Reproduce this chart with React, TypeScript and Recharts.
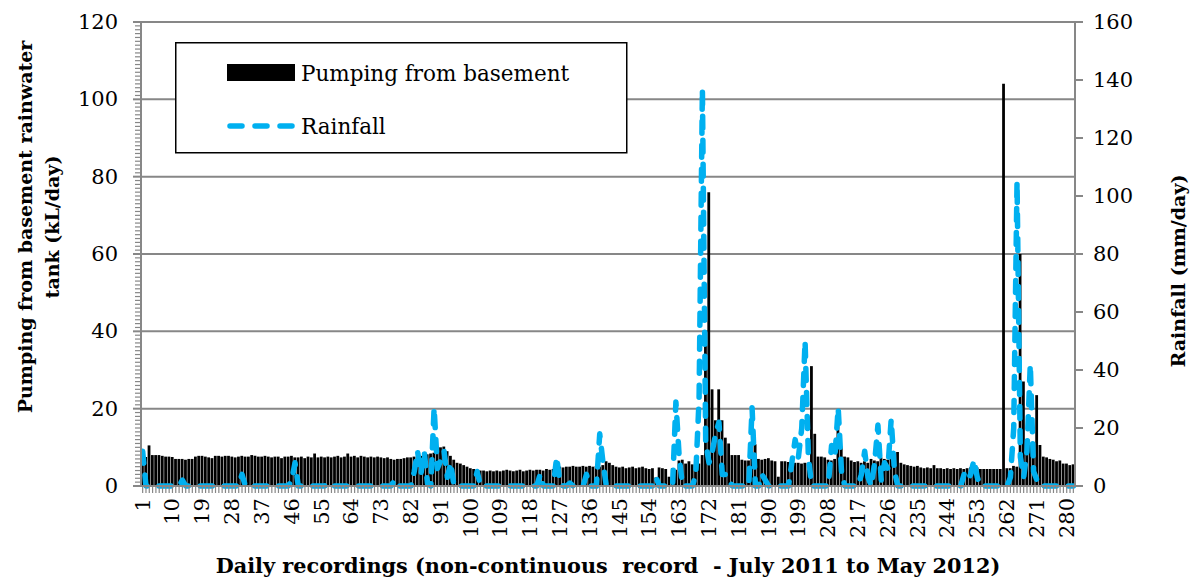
import React from "react";
import { ComposedChart, Bar, Line, XAxis, YAxis, CartesianGrid, Legend } from "recharts";

document.body.style.margin = "0";

const FONT = "'DejaVu Serif', serif";
const GREY = "#878787";
const RAIN_COLOR = "#00B0F0";

// day numbers of the (non-continuous) record
const days: number[] = Array.from({ length: 282 }, (_, i) => i + 1);

// pumping from basement rainwater tank, kL/day
const pumping: number[] = [
  7.5, 7.5, 10.5, 8, 8, 8, 7.8, 7.6, 7.6, 7.5,
  7, 7, 7, 6.8, 7, 7, 7.6, 7.8, 7.8, 7.6,
  7.4, 7.2, 7.8, 7.8, 7.6, 7.8, 7.8, 7.6, 7.4, 7.6,
  7.8, 7.6, 7.6, 8, 7.8, 7.6, 7.6, 7.8, 7.6, 7.4,
  7.6, 7.6, 7.2, 7.6, 7.6, 7.8, 7.4, 7.4, 7.6, 7.2,
  7.6, 7.4, 8.4, 7.4, 7.6, 7.4, 7.6, 7.4, 7.6, 7.8,
  7.4, 7.6, 8.4, 7.6, 7.8, 7.4, 7.8, 7.6, 7.4, 7.6,
  7.4, 7.6, 7.4, 7.2, 7.4, 7, 6.8, 7, 7, 7.2,
  7.4, 7.4, 7.6, 7.6, 7.8, 8, 8.2, 8.4, 8.6, 9,
  10, 10.2, 9, 7.8, 6.8, 6, 5.8, 5.4, 5, 4.6,
  4.4, 4.2, 4, 4, 3.8, 4, 3.8, 4, 3.8, 4,
  4.2, 4, 3.8, 4, 4.2, 3.8, 4, 4.2, 4, 4.2,
  4.2, 4, 4.4, 4.2, 4.4, 4.6, 5, 4.8, 5, 5,
  5.2, 5, 5, 5.2, 5, 5.2, 5, 5.2, 5, 5.4,
  6.4, 6, 5.4, 5, 4.8, 5, 4.6, 4.8, 5, 4.6,
  4.8, 5, 4.6, 4.4, 4.6, 2.2, 4.8, 4.6, 4.4, 2.4,
  4.6, 4.2, 6.6, 6.8, 5.8, 6.4, 5.6, 5.6, 5.8, 8,
  38, 76, 25, 17, 25, 17, 12.5, 11, 8, 8,
  8, 6.8, 6.6, 6.6, 11, 10.8, 7, 6.8, 7, 7.2,
  6.6, 6.4, 2.4, 6.4, 6.4, 6.2, 6.2, 6, 6, 5.8,
  6, 6, 31, 13.5, 7.6, 7.6, 7.4, 6.8, 6.6, 7,
  16, 10.2, 7.6, 7.4, 6.6, 6.2, 6.4, 6, 6.4, 6,
  7, 6.6, 6.4, 7.4, 7, 6.8, 7.2, 7, 8.8, 6,
  5.6, 5.4, 5.2, 5, 5.2, 4.8, 4.6, 4.8, 4.6, 5.4,
  4.6, 4.6, 4.4, 4.6, 4.4, 4.6, 4.4, 4.6, 4.4, 4.6,
  4.8, 5.4, 4.8, 4.4, 4.4, 4.4, 4.4, 4.4, 4.4, 4.4,
  104, 4.6, 4.6, 5.2, 5, 60, 27, 12, 11, 11,
  23.5, 10.6, 7.6, 7.4, 7, 6.8, 6.4, 6.6, 5.8, 5.8,
  5.4, 5.6,
];

// rainfall, mm/day
const rainfall: number[] = [
  12, 0, 0, 0, 0, 0, 0, 0, 0, 0,
  0, 0, 2, 0, 0, 0, 0, 0, 0, 0,
  0, 0, 0, 0, 0, 0, 0, 0, 0, 0,
  4, 0, 0, 0, 0, 0, 0, 0, 0, 0,
  0, 0, 0, 0, 0, 2, 8, 0, 0, 0,
  0, 0, 0, 0, 0, 0, 1, 0, 0, 0,
  0, 0, 0, 0, 0, 0, 0, 0, 0, 0,
  0, 0, 0, 0, 0, 0, 2, 0, 0, 0,
  0, 0, 5, 12, 4, 12, 1, 0, 27, 6,
  9, 12, 3, 8, 0, 0, 0, 0, 0, 0,
  0, 5, 0, 0, 0, 0, 0, 0, 0, 0,
  0, 0, 0, 0, 0, 0, 0, 0, 0, 0,
  4, 0, 0, 0, 0, 10, 1, 0, 0, 1,
  0, 0, 0, 0, 4, 0, 0, 0, 18, 8,
  0, 0, 0, 0, 0, 0, 0, 0, 0, 0,
  0, 0, 0, 0, 0, 3, 0, 0, 0, 0,
  0, 29, 10, 0, 0, 0, 0, 4, 30, 137,
  15, 8, 12, 18, 22, 4, 4, 2, 0, 0,
  0, 0, 0, 0, 27, 0, 0, 4, 2, 0,
  0, 0, 0, 0, 0, 0, 8, 16, 10, 20,
  50, 10, 0, 0, 0, 0, 0, 0, 14, 10,
  27, 5, 0, 0, 0, 0, 0, 4, 12, 3,
  0, 8, 21, 2, 8, 6, 23, 5, 0, 0,
  0, 0, 0, 0, 0, 0, 0, 0, 0, 0,
  0, 0, 0, 0, 0, 0, 0, 0, 4, 2,
  4, 9, 3, 0, 0, 0, 0, 0, 0, 0,
  0, 0, 3, 20, 105, 10, 3, 12, 42, 5,
  2, 0, 0, 0, 0, 0, 0, 0, 0, 0,
  0, 0,
];

const leftMajorTicks = [0, 20, 40, 60, 80, 100, 120];
// the left axis carries a minor tick for every kL
const leftAllTicks: number[] = Array.from({ length: 121 }, (_, i) => i);
const rightTicks = [0, 20, 40, 60, 80, 100, 120, 140, 160];

const data = days.map((day, i) => ({ day, pump: pumping[i], rain: rainfall[i] }));

const DayTick = (props: any) => {
  const { x, y, payload } = props;
  const idx = props.index ?? payload.index;
  if (idx % 9 !== 0) return <g />;
  return (
    <text
      x={x}
      y={y}
      transform={`rotate(-90, ${x}, ${y})`}
      textAnchor="end"
      dominantBaseline="central"
      fontFamily={FONT}
      fontSize={21}
      fill="#000"
    >
      {payload.value}
    </text>
  );
};

const LeftTick = (props: any) => {
  const { x, y, payload } = props;
  const major = payload.value % 20 === 0;
  return (
    <g>
      <line
        x1={x - (major ? 8 : 6)}
        x2={x}
        y1={y}
        y2={y}
        stroke={GREY}
        strokeWidth={major ? 2 : 1.2}
      />
      {major && (
        <text
          x={x - 23}
          y={y}
          textAnchor="end"
          dominantBaseline="central"
          fontFamily={FONT}
          fontSize={21}
          fill="#000"
        >
          {payload.value}
        </text>
      )}
    </g>
  );
};

const LeftTitle = () => {
  const cy = 227;
  return (
    <g>
      <text
        x={25}
        y={cy}
        transform={`rotate(-90, 25, ${cy})`}
        textAnchor="middle"
        dominantBaseline="central"
        fontFamily={FONT}
        fontSize={19}
        fontWeight="bold"
      >
        Pumping from basement rainwater
      </text>
      <text
        x={52}
        y={cy}
        transform={`rotate(-90, 52, ${cy})`}
        textAnchor="middle"
        dominantBaseline="central"
        fontFamily={FONT}
        fontSize={19}
        fontWeight="bold"
      >
        tank (kL/day)
      </text>
    </g>
  );
};

const RightTitle = () => (
  <text
    x={1178}
    y={271}
    transform="rotate(-90, 1178, 271)"
    textAnchor="middle"
    dominantBaseline="central"
    fontFamily={FONT}
    fontSize={19}
    fontWeight="bold"
  >
    Rainfall (mm/day)
  </text>
);

const BottomTitle = (props: any) => {
  const vb = props.viewBox || { x: 141, y: 486, width: 934 };
  return (
    <text
      x={vb.x + vb.width / 2}
      y={565}
      textAnchor="middle"
      dominantBaseline="central"
      fontFamily={FONT}
      fontSize={20.8}
      fontWeight="bold"
      style={{ whiteSpace: "pre" }}
    >
      Daily recordings (non-continuous  record  - July 2011 to May 2012)
    </text>
  );
};

const ChartLegend = () => (
  <svg width={453} height={112} style={{ display: "block" }}>
    <rect x={0.75} y={0.75} width={451} height={110} fill="#fff" stroke="#000" strokeWidth={1.5} />
    <rect x={52} y={22} width={68} height={17} fill="#000" />
    <text x={126} y={31} dominantBaseline="central" fontFamily={FONT} fontSize={21.5}>
      Pumping from basement
    </text>
    <line
      x1={55}
      x2={118}
      y1={84}
      y2={84}
      stroke={RAIN_COLOR}
      strokeWidth={5.5}
      strokeDasharray="12 13"
      strokeLinecap="round"
    />
    <text x={126} y={84} dominantBaseline="central" fontFamily={FONT} fontSize={21.5}>
      Rainfall
    </text>
  </svg>
);

const App: React.FC = () => {
  return (
    <div style={{ width: 1195, height: 582, background: "#fff" }}>
      <ComposedChart
        width={1195}
        height={582}
        data={data}
        margin={{ top: 22, right: 0, bottom: 0, left: 0 }}
      >
        <CartesianGrid
          yAxisId="left"
          vertical={false}
          horizontalValues={leftMajorTicks}
          stroke={GREY}
          strokeWidth={2}
        />
        <XAxis
          dataKey="day"
          interval={0}
          height={96}
          tickSize={7}
          tickMargin={5}
          tick={<DayTick />}
          stroke={GREY}
          tickLine={{ stroke: GREY, strokeWidth: 1.2 }}
          axisLine={{ stroke: GREY, strokeWidth: 2 }}
          label={<BottomTitle />}
        />
        <YAxis
          yAxisId="left"
          orientation="left"
          width={141}
          domain={[0, 120]}
          ticks={leftAllTicks}
          interval={0}
          tickSize={0}
          tickMargin={0}
          tickLine={false}
          tick={<LeftTick />}
          axisLine={{ stroke: GREY, strokeWidth: 2 }}
          label={<LeftTitle />}
        />
        <YAxis
          yAxisId="right"
          orientation="right"
          width={120}
          domain={[0, 160]}
          ticks={rightTicks}
          interval={0}
          tickSize={8}
          tickMargin={10}
          tick={{ fill: "#000", fontFamily: FONT, fontSize: 21 }}
          axisLine={{ stroke: GREY, strokeWidth: 2 }}
          tickLine={{ stroke: GREY, strokeWidth: 2 }}
          label={<RightTitle />}
        />
        <Legend
          layout="horizontal"
          verticalAlign="middle"
          align="center"
          wrapperStyle={{ left: 175, top: 42, width: 453, height: 112 }}
          content={() => <ChartLegend />}
        />
        <Bar
          yAxisId="left"
          dataKey="pump"
          name="Pumping from basement"
          fill="#000"
          barSize={2.8}
          isAnimationActive={false}
        />
        <Line
          yAxisId="right"
          dataKey="rain"
          name="Rainfall"
          type="linear"
          stroke={RAIN_COLOR}
          strokeWidth={5.5}
          strokeDasharray="12 12"
          strokeLinecap="round"
          strokeLinejoin="round"
          dot={false}
          isAnimationActive={false}
        />
      </ComposedChart>
    </div>
  );
};

export default App;
